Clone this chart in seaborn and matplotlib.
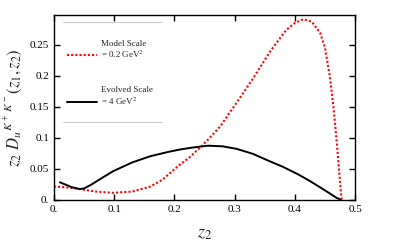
import matplotlib
matplotlib.use("Agg")
import matplotlib.pyplot as plt
import pandas as pd
import seaborn as sns

# values
z2_model = [0.0, 0.02, 0.043, 0.07, 0.098, 0.13, 0.16, 0.18, 0.193, 0.206, 0.225, 0.245, 0.26,
            0.276, 0.303, 0.331, 0.359, 0.375, 0.386, 0.40, 0.414, 0.428, 0.442, 0.45, 0.458,
            0.464, 0.47, 0.474, 0.477, 0.478]
d_model = [0.021, 0.020, 0.017, 0.013, 0.011, 0.013, 0.021, 0.032, 0.043, 0.054, 0.068, 0.086, 0.101,
           0.118, 0.156, 0.196, 0.239, 0.260, 0.274, 0.285, 0.291, 0.287, 0.269, 0.245, 0.199,
           0.150, 0.088, 0.040, 0.005, 0.0]

z2_evolved = [0.01, 0.02, 0.03, 0.043, 0.05, 0.06, 0.08, 0.0985, 0.13, 0.16, 0.19, 0.21, 0.23, 0.256,
              0.28, 0.303, 0.33, 0.358, 0.38, 0.405, 0.425, 0.44, 0.458, 0.469, 0.476]
d_evolved = [0.028, 0.024, 0.020, 0.017, 0.018, 0.023, 0.035, 0.046, 0.060, 0.070, 0.077, 0.081, 0.084,
             0.087, 0.086, 0.082, 0.074, 0.062, 0.053, 0.041, 0.030, 0.021, 0.010, 0.003, 0.0]

x_ticks = [0.0, 0.1, 0.2, 0.3, 0.4, 0.5]
x_labels = ["0.", "0.1", "0.2", "0.3", "0.4", "0.5"]
y_ticks = [0.0, 0.05, 0.1, 0.15, 0.2, 0.25]
y_labels = ["0.", "0.05", "0.1", "0.15", "0.2", "0.25"]

series_names = ["Model Scale", "Evolved Scale"]
series_scales = ["= 0.2 GeV$^2$", "= 4 GeV$^2$"]

sns.set_style("ticks")
plt.rcParams["font.family"] = ["Liberation Serif", "DejaVu Serif"]
plt.rcParams["mathtext.fontset"] = "stix"

df_model = pd.DataFrame({"z2": z2_model, "D": d_model})
df_evolved = pd.DataFrame({"z2": z2_evolved, "D": d_evolved})

fig, ax = plt.subplots(figsize=(3.99, 2.48), dpi=100)
fig.subplots_adjust(left=0.135, right=0.89, top=0.94, bottom=0.195)

sns.lineplot(data=df_model, x="z2", y="D", ax=ax, color="red", linestyle=(0, (1, 1)),
             linewidth=1.5, label=series_scales[0])
sns.lineplot(data=df_evolved, x="z2", y="D", ax=ax, color="black", linewidth=1.4,
             label=series_scales[1])

ax.set_xlim(0, 0.5)
ax.set_ylim(0, 0.298)
ax.set_xticks(x_ticks)
ax.set_xticklabels(x_labels)
ax.set_yticks(y_ticks)
ax.set_yticklabels(y_labels)
ax.tick_params(direction="in", top=True, right=True, length=4, width=1, labelsize=8, colors="black")
ax.tick_params(axis="x", labeltop=False)
ax.tick_params(axis="y", labelright=False)
for s in ax.spines.values():
    s.set_linewidth(1.0)
    s.set_color("black")

ax.set_xlabel("$z_2$", fontsize=13, labelpad=8)
ax.set_ylabel("$z_2\\ D_u{}^{K^+\\,K^-}(z_1, z_2)$", fontsize=12, labelpad=4)

# legend: handle on the second line, series name above it
ax.legend(loc="upper left", bbox_to_anchor=(0.045, 0.815), frameon=False, fontsize=6.5,
          handlelength=3.3, labelspacing=3.9, handletextpad=0.4, borderpad=0, borderaxespad=0)
for name, yfrac in zip(series_names, [0.843, 0.595]):
    ax.text(0.158, yfrac, name, transform=ax.transAxes, fontsize=6.5, va="center", ha="left")
for line in [0.96, 0.42]:
    ax.plot([0.03, 0.36], [line, line], transform=ax.transAxes, color="#cccccc", linewidth=0.8)

fig.savefig("out.png", dpi=100)
